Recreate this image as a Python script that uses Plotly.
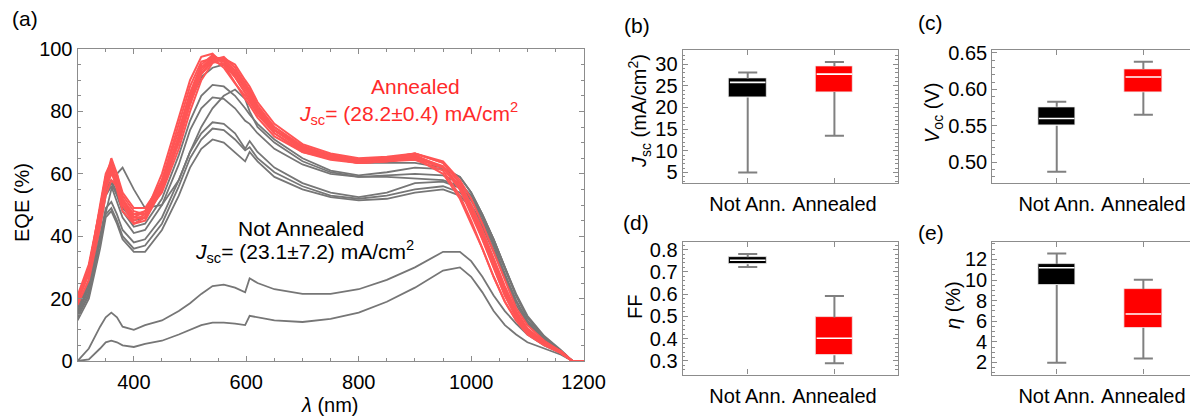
import plotly.graph_objects as go

# the page places the figure 8 px in from the top-left corner of the 1198x418 window
OFF = 8
W, H = 1198 - OFF, 418 - OFF

# ---------------- data: panel (a) EQE spectra ----------------
WL = [300, 320, 340, 350, 360, 370, 380, 400, 420, 450, 480, 500, 520, 540, 560, 580, 598, 606,
      620, 650, 700, 750, 800, 850, 900, 950, 980, 1000, 1020, 1040, 1060, 1080, 1100, 1130, 1160, 1180, 1200]

RED_CURVES = [
    [20, 30, 48, 58, 62, 56, 50, 46, 48, 58, 74, 86, 95, 98, 96, 91, 86, 84, 80, 74, 68, 65.5, 64, 64.5, 65.5, 62, 55, 48, 40, 31, 22, 15, 10, 6, 3, 0, 0],
    [19, 29, 50, 60, 64, 57, 50, 45, 47, 60, 78, 90, 97.5, 98.5, 95, 89, 84, 82, 78, 72, 67, 65, 64, 64.5, 65, 60, 52, 44, 36, 27, 19, 13, 9, 5.5, 2.5, 0, 0],
    [20, 30, 46, 56, 61, 58, 53, 48, 47, 54, 68, 80, 90, 95.5, 97, 95, 90, 88, 83, 76, 69.5, 66.5, 65, 65.5, 66.5, 64, 58, 52, 44, 35, 26, 17, 11.5, 6.5, 3, 0, 0],
    [19, 28, 45, 55, 60, 57, 50, 44, 45, 55, 72, 85, 94, 97.5, 96, 92, 87, 85, 81, 74, 68, 65, 63.5, 64, 65, 62, 56, 49, 41, 32, 23, 15, 10, 6, 3, 0, 0],
    [21, 31, 49, 59, 63, 60, 54, 49, 49, 57, 71, 83, 92, 96, 96.5, 93, 89, 87, 82, 75, 68.5, 66, 64.5, 65, 66.5, 63.5, 57, 50, 41, 32, 23, 15.5, 10, 6, 3, 0, 0],
    [20, 29, 48, 58, 65, 60, 52, 46, 46, 56, 71, 83, 92, 96.5, 97.5, 94, 89, 86, 81, 74, 68.5, 65.5, 64, 64.5, 65.5, 62.5, 56, 48, 39, 30, 21, 14, 9, 5.5, 2.5, 0, 0],
    [19, 28, 47, 57, 61, 55, 48, 44, 46, 58, 76, 88, 96, 97, 94, 89, 85, 83, 79, 73, 67, 64.5, 63.5, 64, 64.5, 61, 53, 45, 36, 27, 19, 13, 8.5, 5, 2.5, 0, 0],
    [20, 30, 49, 59, 63, 58, 51, 47, 48, 57, 72, 84, 93, 97, 97, 93, 88, 86, 81, 75, 69, 66, 64.5, 65, 66.5, 63.5, 57, 50, 42, 33, 24, 16, 10.5, 6, 3, 0, 0],
    [18, 26, 43, 53, 58, 56, 51, 46, 46, 55, 70, 82, 92, 96, 95, 91, 86, 84, 80, 73, 67.5, 65, 63.5, 64, 65, 62, 55.5, 48, 40, 31, 22, 15, 10, 6, 3, 0, 0],
    [20, 30, 48, 58, 62, 58, 52, 47, 47, 56, 72, 85, 94, 97.5, 96.5, 93, 88, 85, 80, 74, 68, 65.5, 64, 65, 66, 62, 55, 47, 39, 30, 21, 14, 9.5, 5.5, 2.5, 0, 0],
]

GRAY_CURVES = [
    [17, 26, 45, 55, 58, 54, 49, 45, 46, 55, 70, 83, 91, 94, 95, 92, 88, 85, 81, 74, 68, 65, 63.5, 63.5, 63.5, 62, 59, 54, 47, 39, 30, 21, 14, 7.5, 3, 0, 0],
    [16, 25, 44, 54, 57, 53, 48, 43, 44, 52, 66, 77, 85, 88.5, 88, 85, 81, 79, 76, 71, 65, 61, 59.5, 60.5, 62, 61.5, 59, 54, 47, 39, 30, 21.5, 14.5, 8, 3.5, 0, 0],
    [15, 24, 43, 53, 56, 51, 46, 41, 42, 50, 63, 74, 81, 84.5, 84, 81, 77, 76, 73, 68, 63, 60, 59, 59.5, 60, 59.5, 57, 53, 46.5, 39, 30, 21, 14, 7.5, 3, 0, 0],
    [15, 23, 40, 48, 55, 60, 62, 55, 49, 50, 58, 67, 75, 81, 85, 87, 84, 80, 75, 70, 64, 60.5, 59, 59, 58.5, 58, 56, 52, 46, 38, 29.5, 21, 14, 7.5, 3, 0, 0],
    [14, 22, 40, 49, 51, 47, 42, 38, 39, 46, 58, 67, 73, 76.5, 76, 73, 68, 70.5, 67, 62, 57, 54, 52.5, 54, 57, 57.5, 55.5, 51.5, 45, 37, 28, 19.5, 13, 7, 3, 0, 0],
    [14, 21, 38, 47, 49, 45, 40, 36, 37, 44, 56, 65, 71, 74.5, 74, 71, 67.5, 68.5, 65, 60.5, 56, 53, 52, 53, 55, 56, 54, 50, 44, 36, 27.5, 19, 12.5, 6.5, 3, 0, 0],
    [13, 20, 36, 46, 48, 44, 39, 35, 35, 42, 53, 62, 68, 71, 70, 67, 64, 67, 64, 59, 55, 52.5, 51.5, 52, 54, 55, 53, 49, 43, 35, 26.5, 18, 12, 6.5, 3, 0, 0],
    [0, 4, 11, 14, 15.5, 14, 11, 10, 11.5, 13, 16, 18.5, 21.5, 24, 24.5, 23.5, 22, 26.5, 25, 23, 21.5, 21.5, 23, 26, 30, 35, 35, 32, 27, 21, 16, 12, 8.5, 5, 2.5, 0, 0],
    [0, 0.5, 4, 6, 6.5, 6, 5, 4.5, 5.5, 6.5, 8.5, 10, 11.5, 12.3, 12.3, 12, 11.5, 14.5, 14, 13, 12.5, 13.5, 15.5, 19, 23.5, 29, 30, 27, 22, 16, 11.5, 8.5, 6, 4, 2, 0, 0],
]

# ---------------- data: box-plot statistics ----------------
CATS = ["Not Ann.", "Annealed"]

JSC_LOW = [5.0, 13.5]
JSC_Q1 = [22.3, 23.6]
JSC_MED = [25.8, 27.7]
JSC_Q3 = [26.7, 29.5]
JSC_HIGH = [28.1, 30.5]

VOC_LOW = [0.487, 0.565]
VOC_Q1 = [0.550, 0.596]
VOC_MED = [0.560, 0.617]
VOC_Q3 = [0.576, 0.628]
VOC_HIGH = [0.583, 0.638]

FF_LOW = [0.722, 0.290]
FF_Q1 = [0.734, 0.326]
FF_MED = [0.752, 0.402]
FF_Q3 = [0.766, 0.495]
FF_HIGH = [0.780, 0.592]

ETA_LOW = [1.97, 2.39]
ETA_Q1 = [9.51, 5.37]
ETA_MED = [11.19, 6.70]
ETA_Q3 = [11.55, 9.13]
ETA_HIGH = [12.58, 10.03]

# ---------------- styling ----------------
FONT = "Liberation Sans, Arial, sans-serif"
AX_COL = "#8c8c8c"
RED_LINE = "#ff5555"
GRAY_LINE = "#767676"
BOX_COLS = ["#000000", "#ff0000"]
BOX_W = 0.43
CAP_HALF = 0.11
TICK_SIZE = 20


def px_x(p):
    return min(1.0, (p - OFF) / W)


def px_y(p):
    return 1 - (p - OFF) / H


fig = go.Figure()

# panel (a)
for c in GRAY_CURVES:
    fig.add_trace(go.Scatter(x=WL, y=c, mode="lines", line=dict(color=GRAY_LINE, width=1.8),
                             xaxis="x", yaxis="y", showlegend=False, hoverinfo="skip"))
for c in RED_CURVES:
    fig.add_trace(go.Scatter(x=WL, y=c, mode="lines", line=dict(color=RED_LINE, width=2.0),
                             xaxis="x", yaxis="y", showlegend=False, hoverinfo="skip"))


def add_box_panel(ax, low, q1, med, q3, high):
    xa, ya = "x" + ax, "y" + ax
    xs, ys = [], []
    for i in range(len(CATS)):
        xs += [i, i, None, i, i, None, i - CAP_HALF, i + CAP_HALF, None, i - CAP_HALF, i + CAP_HALF, None]
        ys += [low[i], q1[i], None, q3[i], high[i], None, low[i], low[i], None, high[i], high[i], None]
    fig.add_trace(go.Scatter(x=xs, y=ys, mode="lines", line=dict(color="#808080", width=2),
                             xaxis=xa, yaxis=ya, showlegend=False, hoverinfo="skip"))
    fig.add_trace(go.Bar(x=list(range(len(CATS))), y=[b - a for a, b in zip(q1, q3)], base=q1,
                         width=BOX_W, marker=dict(color=BOX_COLS, line=dict(color="#f0f0f0", width=0.8)),
                         xaxis=xa, yaxis=ya, showlegend=False, hoverinfo="skip"))
    mx, my = [], []
    for i in range(len(CATS)):
        mx += [i - BOX_W / 2 + 0.01, i + BOX_W / 2 - 0.01, None]
        my += [med[i], med[i], None]
    fig.add_trace(go.Scatter(x=mx, y=my, mode="lines", line=dict(color="white", width=1.6),
                             xaxis=xa, yaxis=ya, showlegend=False, hoverinfo="skip"))


add_box_panel("2", JSC_LOW, JSC_Q1, JSC_MED, JSC_Q3, JSC_HIGH)
add_box_panel("3", VOC_LOW, VOC_Q1, VOC_MED, VOC_Q3, VOC_HIGH)
add_box_panel("4", FF_LOW, FF_Q1, FF_MED, FF_Q3, FF_HIGH)
add_box_panel("5", ETA_LOW, ETA_Q1, ETA_MED, ETA_Q3, ETA_HIGH)

base_ax = dict(showline=True, linecolor=AX_COL, linewidth=1.2, mirror="ticks", ticks="inside",
               tickcolor=AX_COL, ticklen=5, tickwidth=1, showgrid=False, zeroline=False,
               automargin=False,
               tickfont=dict(family=FONT, size=TICK_SIZE, color="black"))

layout = dict(
    template="none",
    width=W, height=H, margin=dict(l=0, r=0, t=0, b=0, pad=0, autoexpand=False),
    paper_bgcolor="white", plot_bgcolor="white", showlegend=False, bargap=0,
    font=dict(family=FONT, color="black"),
)

layout["xaxis"] = dict(base_ax, domain=[px_x(77.6), px_x(583.6)], range=[300, 1200], tick0=0, dtick=200,
                       anchor="y", ticklabelstandoff=3,
                       minor=dict(ticks="inside", dtick=50, tick0=0, ticklen=3, tickcolor=AX_COL))
layout["yaxis"] = dict(base_ax, domain=[px_y(361), px_y(49)], range=[0, 100], tick0=0, dtick=20,
                       anchor="x", minor=dict(ticks="inside", dtick=5, tick0=0, ticklen=3, tickcolor=AX_COL))

box_x = dict(base_ax, tickvals=[0, 1], ticktext=CATS, ticklabelstandoff=3)

top_dom = [px_y(183.3), px_y(50.3)]
bot_dom = [px_y(374.5), px_y(242)]
left_dom = [px_x(682.7), px_x(897.7)]
right_dom = [px_x(992.3), 1.0]

layout["xaxis2"] = dict(box_x, domain=left_dom, range=[-0.75, 1.73], anchor="y2")
layout["yaxis2"] = dict(base_ax, domain=top_dom, range=[2.5, 33.2], tick0=0, dtick=5, anchor="x2",
                        minor=dict(ticks="inside", dtick=1, tick0=0, ticklen=2.5, tickcolor=AX_COL))
layout["xaxis3"] = dict(box_x, domain=right_dom, range=[-0.744, 1.631], anchor="y3")
layout["yaxis3"] = dict(base_ax, domain=top_dom, range=[0.471, 0.6536], tick0=0, dtick=0.05,
                        tickformat=".2f", anchor="x3",
                        minor=dict(ticks="inside", dtick=0.01, tick0=0, ticklen=2.5, tickcolor=AX_COL))
layout["xaxis4"] = dict(box_x, domain=left_dom, range=[-0.75, 1.73], anchor="y4")
layout["yaxis4"] = dict(base_ax, domain=bot_dom, range=[0.239, 0.834], tick0=0, dtick=0.1,
                        tickformat=".1f", anchor="x4",
                        minor=dict(ticks="inside", dtick=0.02, tick0=0, ticklen=2.5, tickcolor=AX_COL))
layout["xaxis5"] = dict(box_x, domain=right_dom, range=[-0.744, 1.631], anchor="y5")
layout["yaxis5"] = dict(base_ax, domain=bot_dom, range=[0.835, 13.69], tick0=0, dtick=2, anchor="x5",
                        minor=dict(ticks="inside", dtick=0.5, tick0=0, ticklen=2.5, tickcolor=AX_COL))

fig.update_layout(**layout)


def note(text, x, y, size=20, color="black", angle=0):
    fig.add_annotation(text=text, x=px_x(x), y=px_y(y), xref="paper", yref="paper",
                       xanchor="center", yanchor="middle", showarrow=False, textangle=angle,
                       font=dict(family=FONT, size=size, color=color))


# panel labels
note("(a)", 25, 18, size=21)
note("(b)", 637, 25, size=21)
note("(c)", 930, 22, size=21)
note("(d)", 636, 222, size=21)
note("(e)", 931, 232, size=21)

# axis titles
note("EQE (%)", 22, 203, size=20, angle=-90)
note("<i>λ</i> (nm)", 330, 405, size=20)
note("<i>J</i><sub>sc</sub> (mA/cm<sup>2</sup>)", 639, 111, size=20, angle=-90)
note("<i>V</i><sub>oc</sub> (V)", 933, 113, size=20, angle=-90)
note("FF", 635, 307, size=20, angle=-90)
note("<i>η</i> (%)", 953, 305, size=20, angle=-90)

# in-plot labels
RED_TXT = "#ff2a2a"
note("Annealed", 415, 87, size=21, color=RED_TXT)
note("<i>J</i><sub>sc</sub>= (28.2±0.4) mA/cm<sup>2</sup>", 408, 113, size=21, color=RED_TXT)
note("Not Annealed", 301, 228, size=21)
note("<i>J</i><sub>sc</sub>= (23.1±7.2) mA/cm<sup>2</sup>", 304, 251, size=21)

fig.write_html("out.html")
